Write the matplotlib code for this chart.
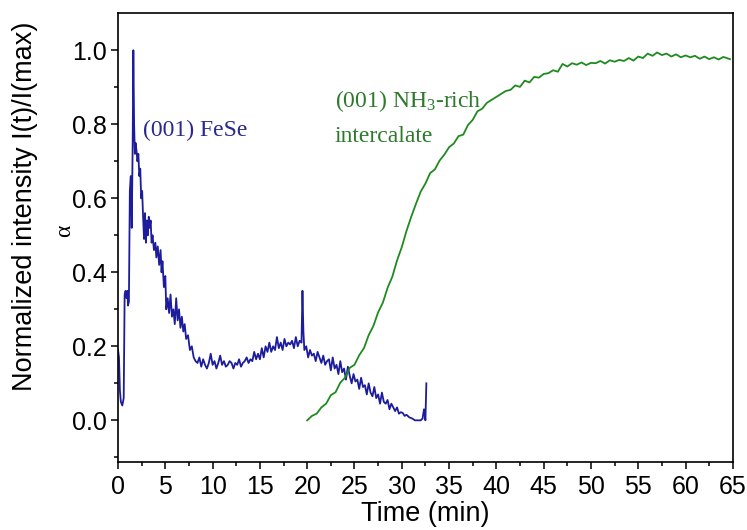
import matplotlib
matplotlib.use('Agg')
import matplotlib.pyplot as plt

# (001) FeSe peak, normalized intensity vs time (min)
fese_t = [0.0, 0.1, 0.2, 0.3, 0.45, 0.6, 0.7, 0.8, 0.9, 1.0, 1.05, 1.15, 1.25, 1.35,
          1.45, 1.55, 1.62, 1.7, 1.78, 1.85, 1.95, 2.05, 2.15, 2.25, 2.35, 2.45, 2.55,
          2.65, 2.75, 2.85, 2.95, 3.05, 3.15, 3.25, 3.35, 3.45, 3.55, 3.65, 3.8, 3.95,
          4.05, 4.2, 4.35, 4.5, 4.6, 4.7, 4.85, 5.0, 5.1, 5.25, 5.4, 5.55, 5.7, 5.85,
          6.0, 6.15, 6.3, 6.45, 6.6, 6.75, 6.9, 7.05, 7.2, 7.4, 7.6, 7.8, 8.0, 8.2,
          8.4, 8.6, 8.8, 9.0, 9.2, 9.4, 9.6, 9.8, 10.0, 10.2, 10.4, 10.6, 10.8, 11.0,
          11.2, 11.4, 11.6, 11.8, 12.0, 12.2, 12.4, 12.6, 12.8, 13.0, 13.2, 13.4, 13.6,
          13.8, 14.0, 14.2, 14.4, 14.6, 14.8, 15.0, 15.2, 15.4, 15.6, 15.8, 16.0, 16.2,
          16.4, 16.6, 16.8, 17.0, 17.2, 17.4, 17.6, 17.8, 18.0, 18.2, 18.4, 18.6, 18.8,
          19.0, 19.2, 19.4, 19.5, 19.6, 19.7, 19.9, 20.1, 20.3, 20.5, 20.7, 20.9, 21.1,
          21.3, 21.5, 21.7, 21.9, 22.1, 22.3, 22.5, 22.7, 22.9, 23.1, 23.3, 23.5, 23.7,
          23.9, 24.1, 24.3, 24.5, 24.7, 24.9, 25.1, 25.3, 25.5, 25.7, 25.9, 26.1, 26.3,
          26.5, 26.7, 26.9, 27.1, 27.3, 27.5, 27.7, 27.9, 28.1, 28.3, 28.5, 28.7, 28.9,
          29.1, 29.3, 29.5, 29.7, 29.9, 30.1, 30.3, 30.5, 30.8, 31.1, 31.4, 31.7, 32.0,
          32.2, 32.35, 32.5, 32.6]
fese_y = [0.19, 0.17, 0.08, 0.05, 0.04, 0.06, 0.34, 0.35, 0.33, 0.35, 0.31, 0.32, 0.62,
          0.66, 0.52, 0.75, 1.00, 0.80, 0.72, 0.75, 0.73, 0.70, 0.72, 0.66, 0.68, 0.60,
          0.62, 0.55, 0.49, 0.56, 0.48, 0.54, 0.50, 0.55, 0.52, 0.54, 0.48, 0.50, 0.46,
          0.48, 0.44, 0.47, 0.42, 0.46, 0.40, 0.43, 0.36, 0.39, 0.30, 0.33, 0.29, 0.34,
          0.28, 0.30, 0.26, 0.33, 0.27, 0.30, 0.25, 0.28, 0.24, 0.26, 0.22, 0.23, 0.19,
          0.20, 0.17, 0.16, 0.155, 0.17, 0.145, 0.165, 0.15, 0.14, 0.155, 0.18, 0.15,
          0.16, 0.14, 0.155, 0.175, 0.15, 0.16, 0.145, 0.15, 0.16, 0.155, 0.14, 0.155,
          0.15, 0.165, 0.145, 0.155, 0.16, 0.17, 0.155, 0.165, 0.16, 0.185, 0.165, 0.18,
          0.165, 0.195, 0.17, 0.20, 0.185, 0.21, 0.185, 0.20, 0.19, 0.225, 0.195, 0.21,
          0.19, 0.22, 0.20, 0.21, 0.205, 0.215, 0.195, 0.225, 0.20, 0.215, 0.21, 0.35,
          0.24, 0.19, 0.20, 0.17, 0.19, 0.175, 0.18, 0.16, 0.185, 0.17, 0.155, 0.175,
          0.15, 0.16, 0.165, 0.135, 0.17, 0.14, 0.15, 0.125, 0.16, 0.13, 0.14, 0.11,
          0.145, 0.12, 0.10, 0.125, 0.105, 0.11, 0.085, 0.115, 0.09, 0.095, 0.07, 0.10,
          0.075, 0.065, 0.09, 0.06, 0.07, 0.045, 0.075, 0.05, 0.045, 0.055, 0.03, 0.045,
          0.035, 0.025, 0.035, 0.018, 0.022, 0.02, 0.012, 0.015, 0.008, 0.005, 0.0, 0.0,
          0.0, 0.005, 0.03, 0.0, 0.1]

# (001) NH3-rich intercalate peak
nh3_t = [20.0, 20.5, 21.0, 21.5, 22.0, 22.5, 23.0, 23.5, 24.0, 24.5, 25.0, 25.5, 26.0,
         26.5, 27.0, 27.5, 28.0, 28.5, 29.0, 29.5, 30.0, 30.5, 31.0, 31.5, 32.0, 32.5,
         33.0, 33.5, 34.0, 34.5, 35.0, 35.5, 36.0, 36.5, 37.0, 37.5, 38.0, 38.5, 39.0,
         39.5, 40.0, 40.5, 41.0, 41.5, 42.0, 42.5, 43.0, 43.5, 44.0, 44.5, 45.0, 45.5,
         46.0, 46.5, 47.0, 47.5, 48.0, 48.5, 49.0, 49.5, 50.0, 50.5, 51.0, 51.5, 52.0,
         52.5, 53.0, 53.5, 54.0, 54.5, 55.0, 55.5, 56.0, 56.5, 57.0, 57.5, 58.0, 58.5,
         59.0, 59.5, 60.0, 60.5, 61.0, 61.5, 62.0, 62.5, 63.0, 63.5, 64.0, 64.7]
nh3_y = [0.000, 0.012, 0.018, 0.035, 0.045, 0.068, 0.076, 0.102, 0.115, 0.142, 0.150,
         0.176, 0.195, 0.230, 0.255, 0.292, 0.318, 0.358, 0.388, 0.432, 0.468, 0.512,
         0.550, 0.585, 0.618, 0.640, 0.668, 0.678, 0.702, 0.718, 0.738, 0.748, 0.768,
         0.772, 0.798, 0.812, 0.835, 0.842, 0.858, 0.866, 0.874, 0.882, 0.890, 0.893,
         0.905, 0.901, 0.918, 0.913, 0.928, 0.926, 0.936, 0.938, 0.946, 0.942, 0.963,
         0.956, 0.965, 0.961, 0.967, 0.960, 0.966, 0.965, 0.971, 0.964, 0.973, 0.969,
         0.974, 0.971, 0.979, 0.972, 0.983, 0.979, 0.991, 0.985, 0.994, 0.987, 0.991,
         0.983, 0.989, 0.981, 0.986, 0.981, 0.985, 0.977, 0.983, 0.976, 0.981, 0.975,
         0.982, 0.976]

xticks = [0, 5, 10, 15, 20, 25, 30, 35, 40, 45, 50, 55, 60, 65]
yticks = [0.0, 0.2, 0.4, 0.6, 0.8, 1.0]

blue = '#1c1c9c'
green = '#1f8a1f'

plt.rcParams['font.family'] = 'Liberation Sans'
plt.rcParams['mathtext.default'] = 'regular'

fig = plt.figure(figsize=(7.47, 5.30), dpi=100)
ax = fig.add_axes([0.158, 0.128, 0.823, 0.847])

ax.plot(fese_t, fese_y, color=blue, lw=1.3)
ax.plot(nh3_t, nh3_y, color=green, lw=1.3)

ax.set_xlim(0, 65)
ax.set_ylim(-0.113, 1.1)
ax.set_xticks(xticks)
ax.set_xticks([x + 2.5 for x in xticks[:-1]], minor=True)
ax.set_yticks(yticks)
ax.set_yticks([y + 0.1 for y in yticks[:-1]] + [-0.1], minor=True)
ax.set_yticklabels([f'{v:.1f}' for v in yticks])
ax.tick_params(which='major', length=5, width=1.1, labelsize=18, pad=3)
ax.tick_params(which='minor', length=3, width=1.1)
ax.tick_params(axis='x', pad=4)
for s in ax.spines.values():
    s.set_linewidth(1.2)

ax.set_xlabel('Time (min)', fontsize=19.5, labelpad=2)
fig.text(0.034, 0.611, 'Normalized intensity I(t)/I(max)', rotation=90,
         ha='center', va='center', fontsize=19.5)
fig.text(0.086, 0.564, 'α', rotation=90, ha='center', va='center',
         fontsize=17, family='Liberation Serif')

ax.text(2.64, 0.784, '(001) FeSe', color='#2a2a8c', fontsize=17,
        family='Liberation Serif', va='center')
ax.text(22.9, 0.862, r'(001) NH$_\mathregular{3}$-rich', color='#2d7a2d',
        fontsize=17, family='Liberation Serif', va='center')
ax.text(22.9, 0.768, 'intercalate', color='#2d7a2d', fontsize=17,
        family='Liberation Serif', va='center')

fig.savefig('out.png', dpi=100)
